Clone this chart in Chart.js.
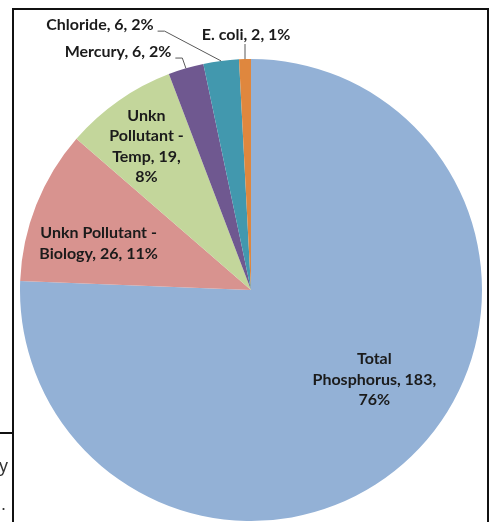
<!DOCTYPE html>
<html>
<head>
    <title>Pollutant Pie</title>
    <script src="https://cdn.jsdelivr.net/npm/chart.js"></script>
    <style>
        body { margin: 0; background-color: #fff; }
        #wrap { position: relative; width: 492px; height: 522px; }
    </style>
</head>
<body>
<div id="wrap"><canvas id="pieChart"></canvas></div>
<script>
var categories = ['Total Phosphorus', 'Unkn Pollutant - Biology', 'Unkn Pollutant - Temp', 'Mercury', 'Chloride', 'E. coli'];
var counts = [183, 26, 19, 6, 6, 2];
var sliceColors = ['#93b1d6', '#d8938f', '#c3d69b', '#6f5890', '#4298ae', '#df873e'];

// how many words go on each line of a data label
var wordsPerLine = [[1, 2, 1], [3, 3], [1, 2, 2, 1], [4], [3], [4]];
// label spot: angle clockwise from 12 o'clock, distance as fraction of radius
var labelSpots = [[126, 0.66], [287, 0.69], [324, 0.77], [330.8, 1.18], [330.3, 1.32], [358.9, 1.104]];
var leaderKind = ['none', 'none', 'none', 'elbow', 'elbow', 'vertical'];

var total = counts.reduce(function(a, b) { return a + b; }, 0);

function labelLines(i) {
    var words = (categories[i] + ', ' + counts[i] + ', ' + Math.round(counts[i] / total * 100) + '%').split(' ');
    var lines = [], k = 0;
    wordsPerLine[i].forEach(function(n) {
        lines.push(words.slice(k, k + n).join(' '));
        k += n;
    });
    return lines;
}

var pieLabels = {
    id: 'pieLabels',
    afterDatasetsDraw: function(chart) {
        var ctx = chart.ctx;
        var meta = chart.getDatasetMeta(0);
        var cx = meta.data[0].x, cy = meta.data[0].y, R = meta.data[0].outerRadius;
        ctx.save();
        ctx.font = 'bold 16px Lato';
        ctx.fillStyle = '#1b1b1b';
        ctx.textAlign = 'center';
        ctx.textBaseline = 'middle';
        var lh = 20.5;
        meta.data.forEach(function(arc, i) {
            var lines = labelLines(i);
            var a = (labelSpots[i][0] - 90) * Math.PI / 180;
            var tx = cx + Math.cos(a) * R * labelSpots[i][1];
            var ty = cy + Math.sin(a) * R * labelSpots[i][1];
            var y0 = ty - (lines.length - 1) * lh / 2;
            lines.forEach(function(s, j) { ctx.fillText(s, tx, y0 + j * lh); });

            var mid = (arc.startAngle + arc.endAngle) / 2;
            var ex = cx + Math.cos(mid) * R, ey = cy + Math.sin(mid) * R;
            ctx.strokeStyle = '#595959';
            ctx.lineWidth = 1;
            if (leaderKind[i] == 'elbow') {
                var right = tx + ctx.measureText(lines[0]).width / 2;
                var ly = ty + 6;
                ctx.beginPath();
                ctx.moveTo(right + 4, ly);
                ctx.lineTo(right + 11, ly);
                ctx.lineTo(ex, ey);
                ctx.stroke();
            } else if (leaderKind[i] == 'vertical') {
                ctx.beginPath();
                ctx.moveTo(ex, ty + 9);
                ctx.lineTo(ex, ey);
                ctx.stroke();
            }
        });
        ctx.restore();
    },
    afterDraw: function(chart) {
        // frame of the embedded chart and the cut-off box at bottom left
        var ctx = chart.ctx;
        ctx.save();
        ctx.strokeStyle = '#111';
        ctx.lineWidth = 2;
        ctx.beginPath();
        ctx.moveTo(13, 522); ctx.lineTo(13, 9); ctx.lineTo(488, 9); ctx.lineTo(488, 522);
        ctx.moveTo(0, 433); ctx.lineTo(13, 433);
        ctx.stroke();
        ctx.fillStyle = '#333';
        ctx.font = '18px "Liberation Sans"';
        ctx.textAlign = 'left';
        ctx.textBaseline = 'alphabetic';
        ctx.fillText('y', -1, 472);
        ctx.fillText('.', 1, 510);
        ctx.restore();
    }
};

var ctx = document.getElementById('pieChart').getContext('2d');
window.myChart = new Chart(ctx, {
    type: 'pie',
    data: {
        labels: categories,
        datasets: [{
            data: counts,
            backgroundColor: sliceColors,
            borderWidth: 0
        }]
    },
    options: {
        responsive: true,
        maintainAspectRatio: false,
        animation: false,
        layout: { padding: { left: 20, right: 10, top: 59, bottom: 1 } },
        plugins: {
            legend: { display: false },
            tooltip: { enabled: false }
        }
    },
    plugins: [pieLabels]
});
</script>
</body>
</html>
